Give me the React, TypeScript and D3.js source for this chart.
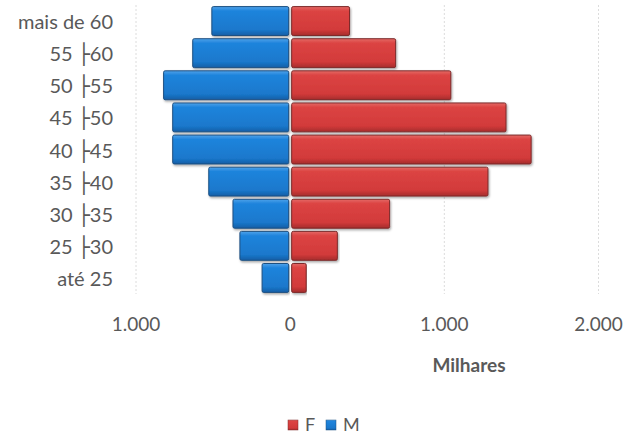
import React from "react";
import * as d3 from "d3";

const categories = ["mais de 60", "55 ├60", "50 ├55", "45 ├50", "40 ├45", "35 ├40", "30 ├35", "25 ├30", "até 25"];
const femaleValues = [385, 684, 1042, 1400, 1563, 1283, 645, 306, 104];
const maleValues = [508, 632, 821, 762, 762, 528, 371, 326, 182];
const tickValues = [-1000, 0, 1000, 2000];
const tickLabels = ["1.000", "0", "1.000", "2.000"];
const seriesNames = ["F", "M"];

const W = 638;
const H = 435;

function CatLabel({ text, x, y, font }: { text: string; x: number; y: number; font: string }) {
  const parts = text.split("├");
  if (parts.length === 1) {
    return (
      <text x={x} y={y} dy="0.35em" textAnchor="end" fontFamily={font} fontSize={20} fill="#595959">
        {text}
      </text>
    );
  }
  return (
    <text x={x} y={y} dy="0.35em" textAnchor="end" fontFamily={font} fontSize={20} fill="#595959">
      {parts[0]}
      <tspan fontFamily="'DejaVu Sans', sans-serif" fontSize={20}>├</tspan>
      <tspan>{parts[1]}</tspan>
    </text>
  );
}

export default function App() {
  const x = d3.scaleLinear().domain([-1000, 2000]).range([136, 598.5]);
  const y = d3.scaleBand<string>().domain(categories).range([5, 294]).paddingInner(0.1).paddingOuter(0.05);
  const font = "Lato, 'Open Sans', sans-serif";
  const x0 = x(0);
  return (
    <svg width={W} height={H} style={{ position: "absolute", left: 0, top: 0, background: "#fff" }}>
      <defs>
        <linearGradient id="gr" x1="0" y1="0" x2="0" y2="1">
          <stop offset="0" stopColor="#e46a66" />
          <stop offset="0.15" stopColor="#dc4443" />
          <stop offset="0.8" stopColor="#d23a3a" />
          <stop offset="1" stopColor="#a52c2c" />
        </linearGradient>
        <linearGradient id="gb" x1="0" y1="0" x2="0" y2="1">
          <stop offset="0" stopColor="#4fa3ea" />
          <stop offset="0.15" stopColor="#1f84dc" />
          <stop offset="0.8" stopColor="#1a78cc" />
          <stop offset="1" stopColor="#145ea6" />
        </linearGradient>
        <filter id="sh" x="-5%" y="-10%" width="110%" height="130%">
          <feDropShadow dx="1" dy="1.5" stdDeviation="1" floodColor="#000" floodOpacity="0.35" />
        </filter>
      </defs>
      {tickValues.filter((t) => t !== 0).map((t) => (
        <line key={t} x1={x(t)} x2={x(t)} y1={5} y2={294} stroke="#dcdcdc" strokeWidth={1} strokeDasharray="2,2" />
      ))}
      {categories.map((c, i) => (
        <g key={c}>
          <rect
            x={x(-maleValues[i])}
            y={y(c)}
            width={x0 - 1.5 - x(-maleValues[i])}
            height={y.bandwidth()}
            fill="url(#gb)"
            stroke="#1d4f80"
            strokeWidth={1}
            rx={1.5}
            filter="url(#sh)"
          />
          <rect
            x={x0 + 1.5}
            y={y(c)}
            width={x(femaleValues[i]) - x0 - 1.5}
            height={y.bandwidth()}
            fill="url(#gr)"
            stroke="#7c2a2a"
            strokeWidth={1}
            rx={1.5}
            filter="url(#sh)"
          />
          <CatLabel text={c} x={113} y={(y(c) as number) + y.bandwidth() / 2 + 1} font={font} />
        </g>
      ))}
      {tickValues.map((t, i) => (
        <text key={t} x={x(t)} y={324} dy="0.35em" textAnchor="middle" fontFamily={font} fontSize={19} fill="#595959">
          {tickLabels[i]}
        </text>
      ))}
      <text x={469} y={365} dy="0.35em" textAnchor="middle" fontFamily={font} fontSize={19} fontWeight="bold" fill="#595959">
        Milhares
      </text>
      {seriesNames.map((s, i) => {
        const lx = 288 + i * 38;
        return (
          <g key={s}>
            <rect x={lx} y={420} width={10} height={10} fill={i === 0 ? "url(#gr)" : "url(#gb)"} stroke={i === 0 ? "#7c2a2a" : "#1d4f80"} strokeWidth={0.5} />
            <text x={lx + 17} y={425} dy="0.35em" fontFamily={font} fontSize={18} fill="#595959">
              {s}
            </text>
          </g>
        );
      })}
    </svg>
  );
}
